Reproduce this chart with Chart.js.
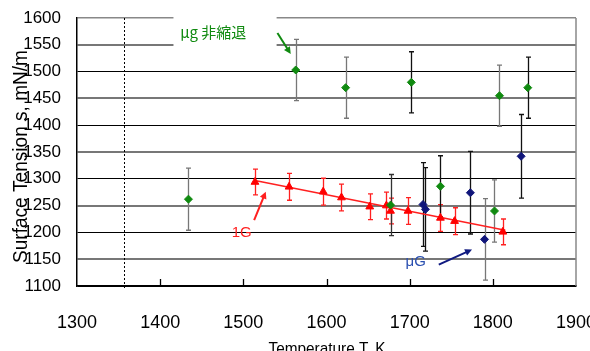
<!DOCTYPE html>
<html><head><meta charset="utf-8">
<script src="https://cdn.jsdelivr.net/npm/chart.js@4.4.0/dist/chart.umd.min.js"></script>
<style>html,body{margin:0;padding:0;background:#fff;}#wrap{width:590px;height:351px;position:relative;}</style>
</head><body><div id="wrap"><canvas id="c"></canvas></div>
<script>
// ---- data ----
const xTicks = [1300, 1400, 1500, 1600, 1700, 1800, 1900];
const yTicks = [1100, 1150, 1200, 1250, 1300, 1350, 1400, 1450, 1500, 1550, 1600];
const greenT   = [1434, 1563, 1623, 1702, 1808, 1842, 1677, 1737, 1802];
const greenS   = [1262, 1503, 1470, 1480, 1455, 1470, 1251, 1286, 1240];
const greenErr = [58, 57, 57, 57, 57, 57, 57, 57, 58];
const blueT    = [1716, 1719, 1773, 1790, 1834];
const blueS    = [1252, 1243, 1274, 1187, 1342];
const blueErr  = [78, 78, 77, 76, 78];
const redT     = [1514, 1555, 1596, 1618, 1652, 1672, 1677, 1698, 1737, 1754, 1812];
const redS     = [1294, 1285, 1276, 1265, 1248, 1250, 1240, 1240, 1227, 1221, 1201];
const redErr   = [24, 25, 25, 25, 24, 25, 24, 25, 25, 25, 24];
const fitT = [1514, 1815];
const fitS = [1297, 1204];
const meltT = 1357;
const labelGreen = 'μg 非縮退';
const labelRed = '1G';
const labelBlue = 'μG';
const xTitle = 'Temperature T, K';
const yTitle = 'Surface Tension s, mN/m';

// ---- styles ----
const GRAY = '#777', BLK = '#111';
const greenErrCol = [GRAY, GRAY, GRAY, BLK, GRAY, BLK, '#333', BLK, GRAY];
const blueErrCol = [BLK, BLK, BLK, GRAY, BLK];
const redErrCol = redT.map(() => '#ff2020');
const NARROW = '"Liberation Sans Narrow", "Arial Narrow", "Liberation Sans", sans-serif';

const pts = (xs, ys) => xs.map((x, i) => ({x: x, y: ys[i]}));

// draws text fitted to a target length (spacing or compression)
function fitText(ctx, s, target) {
  ctx.letterSpacing = '0px';
  const w = ctx.measureText(s).width;
  if (w <= target) {
    ctx.letterSpacing = ((target - w) / (s.length - 1)) + 'px';
    ctx.fillText(s, 0, 0);
  } else {
    ctx.save(); ctx.scale(target / w, 1); ctx.fillText(s, 0, 0); ctx.restore();
  }
}

const errPlugin = {
  id: 'errbars',
  beforeDatasetsDraw(chart) {
    const {ctx, chartArea: a, scales: {x, y}} = chart;
    ctx.save();
    ctx.strokeStyle = '#000'; ctx.lineWidth = 1; ctx.setLineDash([2, 2]);
    const mx = Math.round(x.getPixelForValue(meltT)) + 0.5;
    ctx.beginPath(); ctx.moveTo(mx, a.top); ctx.lineTo(mx, a.bottom + 3); ctx.stroke();
    ctx.setLineDash([]);
    chart.data.datasets.forEach(ds => {
      if (!ds.errs) return;
      ds.data.forEach((p, i) => {
        const px = Math.round(x.getPixelForValue(p.x)) + 0.5;
        const t = y.getPixelForValue(p.y + ds.errs[i]);
        const b = y.getPixelForValue(p.y - ds.errs[i]);
        ctx.strokeStyle = ds.errCols[i]; ctx.lineWidth = 1.3;
        ctx.beginPath();
        ctx.moveTo(px, t); ctx.lineTo(px, b);
        ctx.moveTo(px - 2.5, t); ctx.lineTo(px + 2.5, t);
        ctx.moveTo(px - 2.5, b); ctx.lineTo(px + 2.5, b);
        ctx.stroke();
      });
    });
    ctx.restore();
  },
  afterDatasetsDraw(chart) {
    const {ctx, chartArea: a, scales: {x, y}} = chart;
    ctx.save();
    ctx.strokeStyle = '#888'; ctx.lineWidth = 1.5;
    ctx.beginPath(); ctx.moveTo(a.right, a.top); ctx.lineTo(a.right, a.bottom); ctx.stroke();
    ctx.strokeStyle = '#000'; ctx.lineWidth = 1.3;
    xTicks.slice(1, -1).forEach(v => {
      const px = Math.round(x.getPixelForValue(v)) + 0.5;
      ctx.beginPath(); ctx.moveTo(px, a.bottom); ctx.lineTo(px, a.bottom - 7); ctx.stroke();
    });
    const bx0 = x.getPixelForValue(1416), bx1 = x.getPixelForValue(1540);
    const by0 = y.getPixelForValue(1611), by1 = y.getPixelForValue(1543);
    ctx.fillStyle = '#fff'; ctx.fillRect(bx0, by0, bx1 - bx0, by1 - by0);
    const arrow = (x0, y0, x1, y1, col) => {
      const X0 = x.getPixelForValue(x0), Y0 = y.getPixelForValue(y0);
      const X1 = x.getPixelForValue(x1), Y1 = y.getPixelForValue(y1);
      const ang = Math.atan2(Y1 - Y0, X1 - X0);
      ctx.strokeStyle = col; ctx.fillStyle = col; ctx.lineWidth = 2;
      ctx.beginPath(); ctx.moveTo(X0, Y0);
      ctx.lineTo(X1 - 5 * Math.cos(ang), Y1 - 5 * Math.sin(ang)); ctx.stroke();
      ctx.beginPath(); ctx.moveTo(X1, Y1);
      ctx.lineTo(X1 - 7 * Math.cos(ang) + 3.5 * Math.sin(ang), Y1 - 7 * Math.sin(ang) - 3.5 * Math.cos(ang));
      ctx.lineTo(X1 - 7 * Math.cos(ang) - 3.5 * Math.sin(ang), Y1 - 7 * Math.sin(ang) + 3.5 * Math.cos(ang));
      ctx.closePath(); ctx.fill();
    };
    const text = (s, xv, yv, col, font) => {
      ctx.fillStyle = col; ctx.font = font; ctx.textAlign = 'left'; ctx.textBaseline = 'middle';
      ctx.fillText(s, x.getPixelForValue(xv), y.getPixelForValue(yv));
    };
    text(labelGreen, 1424, 1574, '#108a10', '15px "Noto Sans CJK JP", sans-serif');
    arrow(1541, 1572, 1557, 1533, '#108a10');
    text(labelRed, 1486, 1200, '#ff2020', '15px "Liberation Sans", Arial, sans-serif');
    arrow(1513, 1223, 1527, 1276, '#ff2020');
    text(labelBlue, 1695, 1145, '#2a4fb0', '15px "Liberation Sans", Arial, sans-serif');
    arrow(1735, 1140, 1775, 1168, '#101a80');
    ctx.restore();
  },
  afterDraw(chart) {
    const {ctx} = chart;
    ctx.save();
    ctx.fillStyle = '#000'; ctx.textAlign = 'left'; ctx.textBaseline = 'alphabetic';
    ctx.font = '17px ' + NARROW;
    ctx.save(); ctx.translate(268.5, 354); fitText(ctx, xTitle, 117); ctx.restore();
    ctx.save(); ctx.translate(26.5, 263); ctx.rotate(-Math.PI / 2);
    ctx.font = '20px ' + NARROW;
    fitText(ctx, yTitle, 213);
    ctx.restore();
    ctx.restore();
  }
};

new Chart(document.getElementById('c'), {
  type: 'scatter',
  data: {
    datasets: [
      {data: pts(fitT, fitS), showLine: true, borderColor: '#ff2020', borderWidth: 1.5, pointRadius: 0, order: 4},
      {data: pts(redT, redS), errs: redErr, errCols: redErrCol, pointStyle: 'triangle', radius: 4.5,
       backgroundColor: '#ff0000', borderColor: '#ff0000', borderWidth: 1, order: 3},
      {data: pts(greenT, greenS), errs: greenErr, errCols: greenErrCol, pointStyle: 'rectRot', radius: 4,
       backgroundColor: '#108a10', borderColor: '#108a10', borderWidth: 1, order: 2},
      {data: pts(blueT, blueS), errs: blueErr, errCols: blueErrCol, pointStyle: 'rectRot', radius: 4,
       backgroundColor: '#10157a', borderColor: '#10157a', borderWidth: 1, order: 1}
    ]
  },
  options: {
    responsive: true, maintainAspectRatio: false, animation: false,
    layout: {padding: {left: 0, right: 14, top: 18, bottom: 0}},
    plugins: {legend: {display: false}, tooltip: {enabled: false}},
    scales: {
      x: {
        type: 'linear', min: xTicks[0], max: xTicks[xTicks.length - 1],
        afterBuildTicks: s => { s.ticks = xTicks.map(v => ({value: v})); },
        afterFit: s => { s.height = 65; s.paddingLeft = 0; s.paddingRight = 0; },
        grid: {display: false},
        border: {display: true, color: '#000', width: 1.5},
        ticks: {padding: 18, color: '#000', font: {family: NARROW, size: 18}, callback: v => String(v)}
      },
      y: {
        type: 'linear', min: yTicks[0], max: yTicks[yTicks.length - 1],
        afterBuildTicks: s => { s.ticks = yTicks.map(v => ({value: v})); },
        afterFit: s => { s.width = 77; s.paddingTop = 0; s.paddingBottom = 0; },
        grid: {
          drawTicks: false,
          color: c => (c.tick.value === 1600 ? '#888' : (c.tick.value % 100 === 0 ? '#000' : '#777')),
          lineWidth: c => (c.tick.value % 100 === 50 ? 2 : (c.tick.value === 1600 ? 1.5 : 1))
        },
        border: {display: true, color: '#000', width: 1.5},
        ticks: {padding: 16, color: '#000', font: {family: NARROW, size: 17}, callback: v => String(v)}
      }
    }
  },
  plugins: [errPlugin]
});
</script></body></html>
